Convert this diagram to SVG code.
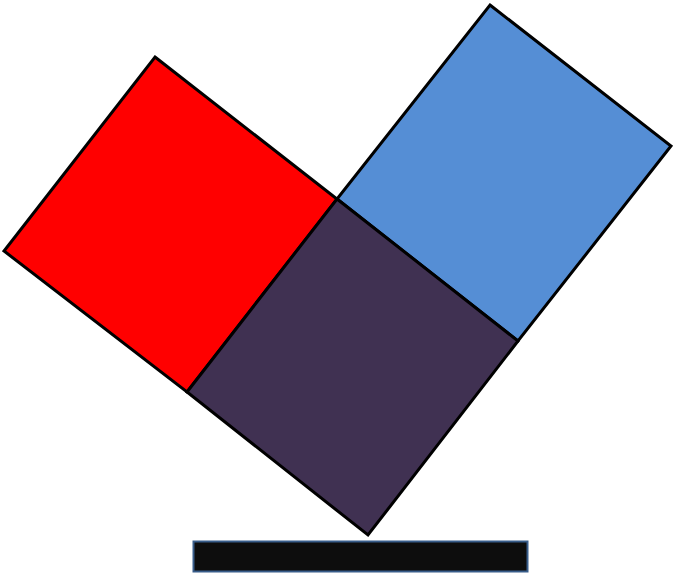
<svg xmlns="http://www.w3.org/2000/svg" width="676" height="575" viewBox="0 0 676 575">
<style>
.sq{stroke:#000;stroke-width:3;stroke-linejoin:miter}
</style>
<rect width="676" height="575" fill="#fff"/>
<g id="red"><polygon class="sq" fill="#ff0000" points="155,57 337,199 187,392 4,251"/></g>
<g id="blue"><polygon class="sq" fill="#558ed5" points="490,5 671,146 518,341 337,199"/></g>
<g id="purple"><polygon class="sq" fill="#403152" points="337,199 518,341 368,535 187,392"/></g>
<g id="bar"><rect x="193.5" y="541.5" width="334" height="30" fill="#0d0d0d" stroke="#385d8a" stroke-width="2"/></g>
</svg>
